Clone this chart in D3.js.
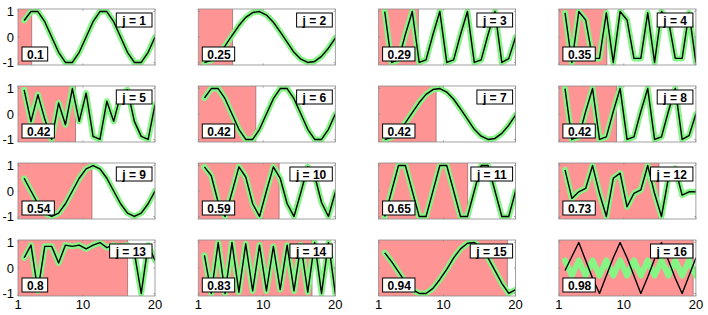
<!DOCTYPE html>
<html>
<head>
<meta charset="utf-8">
<script src="https://cdn.jsdelivr.net/npm/d3@7"></script>
<style>
body { margin: 0; background: #fff; }
svg { display: block; }
</style>
</head>
<body>
<script>
const width = 708;
const height = 315;

const shares = [0.1, 0.25, 0.29, 0.35, 0.42, 0.42, 0.42, 0.42, 0.54, 0.59, 0.65, 0.73, 0.8, 0.83, 0.94, 0.98];

// 20 sample positions shared by every panel
const xs = [1.85, 2.8, 3.76, 4.71, 5.67, 6.63, 7.58, 8.54, 9.49, 10.45,
            11.41, 12.36, 13.32, 14.27, 15.23, 16.18, 17.14, 18.09, 19.05, 20];

const s1  = [0.65, 1, 1, 0.6, 0, -0.6, -1, -1, -0.6, 0, 0.6, 1, 1, 0.6, 0, -0.6, -1, -1, -0.6, 0];
const s2  = [-1, -0.92, -0.7, -0.35, 0.05, 0.45, 0.77, 0.96, 1, 0.86, 0.58, 0.2, -0.2, -0.6, -0.87, -1, -0.96, -0.76, -0.44, -0.04];
const s3  = [1, -1, -0.9, 0.1, 1, -1, -0.9, 0.1, 1, -1, -0.9, 0.1, 1, -1, -0.9, 0.1, 1, -1, -0.85, 0];
const s4  = [0.95, -1, 1, 0.67, -0.84, -0.84, 0.95, -1, 1, 0.67, -0.84, -0.84, 0.95, -1, 1, 0.67, -0.84, -0.84, 0.95, -1];
const s5  = [0.95, -0.3, 0.76, -0.2, -1, 0.43, -0.42, 1, -0.29, 0.82, -0.88, -1, 0.5, -0.29, 0.76, 0.95, -0.29, -0.88, -1, 0.37];
const s6  = [0.63, 1, 1, 0.6, 0, -0.6, -1, -1, -0.6, 0, 0.6, 1, 1, 0.6, 0, -0.6, -1, -1, -0.6, 0];
const s7  = [-1, -0.92, -0.7, -0.35, 0.05, 0.45, 0.77, 0.96, 1, 0.86, 0.58, 0.2, -0.2, -0.6, -0.87, -1, -0.96, -0.76, -0.44, -0.04];
const s8  = [1, -1, -0.9, 0.1, 1, -1, -0.9, 0.1, 1, -1, -0.9, 0.1, 1, -1, -0.9, 0.1, 1, -1, -0.85, 0];
const s9  = [0.5, 0, -0.5, -0.87, -1, -0.87, -0.5, 0, 0.5, 0.87, 1, 0.87, 0.5, 0, -0.5, -0.87, -1, -0.87, -0.5, 0];
const s10 = [0.95, 0.6, -0.45, -1, -0.05, 0.95, 0.55, -0.5, -1, 0, 0.95, 0.5, -0.5, -1, -0.05, 0.95, 0.6, -0.45, -1, -0.05];
const s11 = [-1, 0, 1, 1, 0, -1, -1, 0, 1, 1, 0, -1, -1, 0, 1, 1, 0, -1, -1, 0];
const s12 = [0.83, -0.29, -0.03, 0.1, 1, -0.1, -1, 0.5, 0.7, -0.62, -0.09, 0.04, 1, -0.1, -1, 0.5, 0.89, -0.16, -0.03, -0.03];
const s13 = [0.4, 0.9, -0.9, 0.85, 0.85, 0.2, 0.9, 0.85, 0.9, 0.75, 0.9, 1, 0.8, 0.9, 0.85, 0.9, 0.6, -1, 0.9, 0.3];
const s14 = [0.5, -1, 1, -1, 1, -0.95, 0.95, -0.9, 0.9, -0.9, 0.85, -0.85, 0.9, -0.9, 0.9, -0.95, 1, -1, 1, -1];
const s15 = [0.6, 0.25, -0.15, -0.55, -0.85, -1, -1, -0.8, -0.45, -0.05, 0.4, 0.75, 0.97, 1, 0.8, 0.4, -0.1, -0.6, -1, -0.85];
const s16 = [-0.1, 0.45, 1, 0.3, -0.4, -1, -0.3, 0.4, 1, 0.4, -0.3, -1, -0.35, 0.35, 1, 0.3, -0.4, -1, -0.3, 0.4];
const g16 = [0.3, -0.3, 0.3, -0.3, 0.3, -0.3, 0.3, -0.3, 0.3, -0.3, 0.3, -0.3, 0.3, -0.3, 0.3, -0.3, 0.3, -0.3, 0.3, -0.3];

const blacks = [s1, s2, s3, s4, s5, s6, s7, s8, s9, s10, s11, s12, s13, s14, s15, s16];
const greens = [s1, s2, s3, s4, s5, s6, s7, s8, s9, s10, s11, s12, s13, s14, s15, g16];

const xTicks = [1, 10, 20];
const yTicks = [-1, 0, 1];

const pw = 137, ph = 56;
const svg = d3.select("body").append("svg")
    .attr("width", width)
    .attr("height", height)
    .style("font-family", "'Liberation Sans', Arial, sans-serif");

const x = d3.scaleLinear().domain([1, 20]).range([0, pw]);
const y = d3.scaleLinear().domain([-1.1, 1.1]).range([ph, 0]);
const line = d3.line().x((d, i) => x(xs[i])).y(d => y(d));

blacks.forEach(function(vals, k) {
    const col = k % 4, row = Math.floor(k / 4);
    const left = 18 + col * 180.3, top = 9 + row * 77;
    const g = svg.append("g").attr("transform", `translate(${left},${top})`);

    g.append("clipPath").attr("id", "clip" + k)
        .append("rect").attr("width", pw).attr("height", ph);

    const body = g.append("g").attr("clip-path", `url(#clip${k})`);
    const edge = x(1 + shares[k] * 19);
    body.append("rect")
        .attr("x", x(1)).attr("y", 0)
        .attr("width", edge - x(1)).attr("height", ph)
        .attr("fill", "#ff9494");
    body.append("line")
        .attr("x1", edge).attr("x2", edge)
        .attr("y1", 0).attr("y2", ph)
        .attr("stroke", "#7a5050").attr("stroke-width", 0.6);

    body.append("path").datum(greens[k])
        .attr("d", line).attr("fill", "none")
        .attr("stroke", "#85f585").attr("stroke-width", 6)
        .attr("stroke-linejoin", "round").attr("stroke-linecap", "round");
    body.append("path").datum(vals)
        .attr("d", line).attr("fill", "none")
        .attr("stroke", "#000").attr("stroke-width", 1.4)
        .attr("stroke-linejoin", "round");

    // axes box with small inward ticks
    g.append("rect").attr("width", pw).attr("height", ph)
        .attr("fill", "none").attr("stroke", "#8a8a8a").attr("stroke-width", 0.8);
    g.selectAll(".tx").data(xTicks).enter().append("path")
        .attr("d", d => `M${x(d)},${ph}v-1.6M${x(d)},0v1.6`)
        .attr("stroke", "#8a8a8a").attr("stroke-width", 0.8);
    g.selectAll(".ty").data(yTicks).enter().append("path")
        .attr("d", d => `M0,${y(d)}h1.6M${pw},${y(d)}h-1.6`)
        .attr("stroke", "#8a8a8a").attr("stroke-width", 0.8);

    // j label, top right
    const jl = g.append("g");
    const jt = jl.append("text").text("j = " + (k + 1))
        .attr("font-size", 12).attr("font-weight", "bold")
        .attr("dominant-baseline", "central");
    const jw = jt.node().getComputedTextLength();
    jl.insert("rect", "text")
        .attr("x", pw - 3 - jw - 12).attr("y", 4)
        .attr("width", jw + 12).attr("height", 14)
        .attr("fill", "#fff").attr("stroke", "#000").attr("stroke-width", 1);
    jt.attr("x", pw - 3 - jw - 6).attr("y", 11.5);

    // share label, bottom left
    const vl = g.append("g");
    const vt = vl.append("text").text(String(shares[k]))
        .attr("font-size", 12).attr("font-weight", "bold")
        .attr("dominant-baseline", "central");
    const vw = vt.node().getComputedTextLength();
    vl.insert("rect", "text")
        .attr("x", 4).attr("y", ph - 18)
        .attr("width", vw + 9).attr("height", 14)
        .attr("fill", "#fff").attr("stroke", "#000").attr("stroke-width", 1);
    vt.attr("x", 9).attr("y", ph - 10.5);

    if (col === 0) {
        g.selectAll(".yt").data(yTicks).enter().append("text")
            .attr("x", -4).attr("y", d => y(d))
            .attr("text-anchor", "end").attr("dominant-baseline", "central")
            .attr("font-size", 13)
            .text(d => d);
    }
    if (row === 3) {
        g.selectAll(".xt").data(xTicks).enter().append("text")
            .attr("x", d => x(d)).attr("y", ph + 13)
            .attr("text-anchor", "middle").attr("font-size", 13)
            .text(d => d);
    }
});
</script>
</body>
</html>
